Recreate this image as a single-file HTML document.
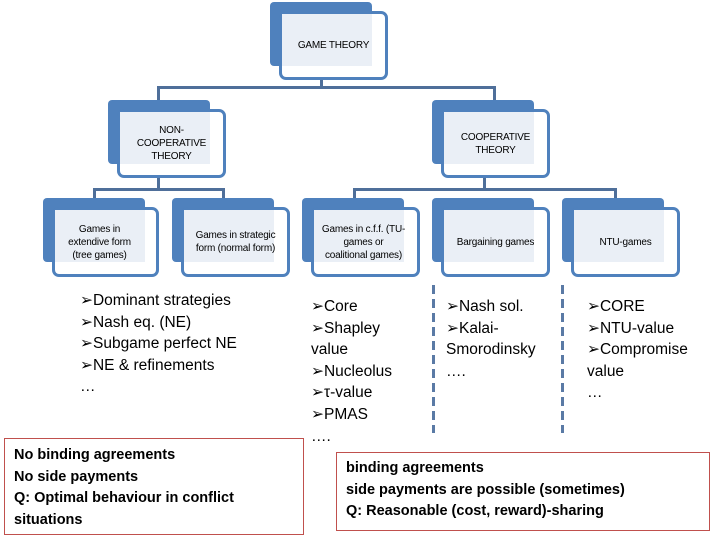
<!DOCTYPE html>
<html><head><meta charset="utf-8"><style>
body{margin:0;width:720px;height:540px;background:#fff;position:relative;overflow:hidden;font-family:"Liberation Sans",sans-serif;}
.d{position:absolute;background:#4f81bd;border-radius:4px;}
.f{position:absolute;border:3px solid #4f81bd;border-radius:7px;background:#fff;box-sizing:border-box;}
.l{position:absolute;background:#eaeff6;}
.t{position:absolute;display:flex;align-items:center;justify-content:center;text-align:center;font-size:10px;line-height:13px;color:#000;letter-spacing:-0.2px;}
.ln{position:absolute;background:#4f6f9a;}
.dash{position:absolute;width:3px;background:repeating-linear-gradient(#5a7aa5 0 9px,transparent 9px 14px);}
.list{position:absolute;font-size:15.5px;line-height:21.6px;color:#000;}
.red{position:absolute;border:1.5px solid #c0504d;box-sizing:border-box;font-size:14.5px;font-weight:bold;line-height:21.5px;}
</style></head><body>
<div class="ln" style="left:320px;top:70px;width:3px;height:19px"></div>
<div class="ln" style="left:157px;top:86px;width:339px;height:3px"></div>
<div class="ln" style="left:157px;top:86px;width:3px;height:16px"></div>
<div class="ln" style="left:493px;top:86px;width:3px;height:16px"></div>
<div class="ln" style="left:157px;top:175px;width:3px;height:15px"></div>
<div class="ln" style="left:93px;top:188px;width:132px;height:3px"></div>
<div class="ln" style="left:93px;top:188px;width:3px;height:12px"></div>
<div class="ln" style="left:222px;top:188px;width:3px;height:12px"></div>
<div class="ln" style="left:483px;top:175px;width:3px;height:15px"></div>
<div class="ln" style="left:353px;top:188px;width:264px;height:3px"></div>
<div class="ln" style="left:353px;top:188px;width:3px;height:12px"></div>
<div class="ln" style="left:614px;top:188px;width:3px;height:12px"></div>

<div class="d" style="left:270px;top:2px;width:102px;height:64px"></div>
<div class="f" style="left:279px;top:11px;width:109px;height:69px"></div>
<div class="l" style="left:282px;top:14px;width:90px;height:52px"></div>
<div class="t" style="left:279px;top:11px;width:109px;height:69px">GAME THEORY</div>

<div class="d" style="left:108px;top:100px;width:102px;height:64px"></div>
<div class="f" style="left:117px;top:109px;width:109px;height:69px"></div>
<div class="l" style="left:120px;top:112px;width:90px;height:52px"></div>
<div class="t" style="left:117px;top:109px;width:109px;height:69px">NON-<br>COOPERATIVE<br>THEORY</div>

<div class="d" style="left:432px;top:100px;width:102px;height:64px"></div>
<div class="f" style="left:441px;top:109px;width:109px;height:69px"></div>
<div class="l" style="left:444px;top:112px;width:90px;height:52px"></div>
<div class="t" style="left:441px;top:109px;width:109px;height:69px">COOPERATIVE<br>THEORY</div>

<div class="d" style="left:43px;top:198px;width:102px;height:64px"></div>
<div class="f" style="left:52px;top:207px;width:107px;height:70px"></div>
<div class="l" style="left:55px;top:210px;width:90px;height:52px"></div>
<div class="t" style="left:46px;top:207px;width:107px;height:70px">Games in<br>extendive form<br>(tree games)</div>

<div class="d" style="left:172px;top:198px;width:102px;height:64px"></div>
<div class="f" style="left:181px;top:207px;width:109px;height:70px"></div>
<div class="l" style="left:184px;top:210px;width:90px;height:52px"></div>
<div class="t" style="left:181px;top:207px;width:109px;height:70px">Games in strategic<br>form (normal form)</div>

<div class="d" style="left:302px;top:198px;width:102px;height:64px"></div>
<div class="f" style="left:311px;top:207px;width:109px;height:70px"></div>
<div class="l" style="left:314px;top:210px;width:90px;height:52px"></div>
<div class="t" style="left:309px;top:207px;width:109px;height:70px">Games in c.f.f. (TU-<br>games or<br>coalitional games)</div>

<div class="d" style="left:432px;top:198px;width:102px;height:64px"></div>
<div class="f" style="left:441px;top:207px;width:109px;height:70px"></div>
<div class="l" style="left:444px;top:210px;width:90px;height:52px"></div>
<div class="t" style="left:441px;top:207px;width:109px;height:70px">Bargaining games</div>

<div class="d" style="left:562px;top:198px;width:102px;height:64px"></div>
<div class="f" style="left:571px;top:207px;width:109px;height:70px"></div>
<div class="l" style="left:574px;top:210px;width:90px;height:52px"></div>
<div class="t" style="left:571px;top:207px;width:109px;height:70px">NTU-games</div>

<div class="dash" style="left:432px;top:285px;height:148px"></div>
<div class="dash" style="left:561px;top:285px;height:148px"></div>

<div class="list" style="left:80px;top:290px">➢Dominant strategies<br>➢Nash eq. (NE)<br>➢Subgame perfect NE<br>➢NE &amp; refinements<br>…</div>
<div class="list" style="left:311px;top:296px">➢Core<br>➢Shapley<br>value<br>➢Nucleolus<br>➢τ-value<br>➢PMAS<br>….</div>
<div class="list" style="left:446px;top:296px">➢Nash sol.<br>➢Kalai-<br>Smorodinsky<br>….</div>
<div class="list" style="left:587px;top:296px">➢CORE<br>➢NTU-value<br>➢Compromise<br>value<br>…</div>

<div class="red" style="left:4px;top:438px;width:300px;height:97px;padding:6px 0 0 9px">No binding agreements<br>No side payments<br>Q: Optimal behaviour in conflict<br>situations</div>
<div class="red" style="left:336px;top:452px;width:374px;height:79px;padding:5px 0 0 9px">binding agreements<br>side payments are possible (sometimes)<br>Q: Reasonable (cost, reward)-sharing</div>
</body></html>
